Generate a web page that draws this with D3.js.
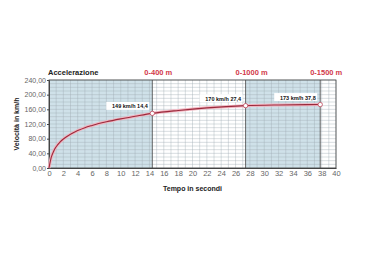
<!DOCTYPE html>
<html>
<head>
<meta charset="utf-8">
<script src="https://d3js.org/d3.v7.min.js"></script>
<style>
  body { margin: 0; background: #fff; }
  svg { display: block; font-family: "Liberation Sans", Arial, sans-serif; }
</style>
</head>
<body>
<svg id="chart" width="368" height="263"></svg>
<script>
// curve (time s, speed km/h)
const times  = [0, 0.3, 0.7, 1, 1.5, 2, 3, 4, 5, 6, 8, 10, 12, 14.4, 18, 22, 27.4, 32, 37.8]
const speeds = [0, 28, 48, 58, 70, 79, 92, 102, 110, 116, 126, 134, 141, 149, 157, 164, 170, 172, 173]

// marked points and their labels
const markTimes  = [14.4, 27.4, 37.8]
const markSpeeds = [149, 170, 173]
const markLabels = ['149 km/h 14,4', '170 km/h 27,4', '173 km/h 37,8']

// shaded distance bands
const bandStarts = [0, 27.4]
const bandEnds   = [14.4, 37.8]
const distLabels = ['0-400 m', '0-1000 m', '0-1500 m']
const distTimes  = [14.4, 27.4, 37.8]

const xTicks = d3.range(0, 41, 2)
const yTicks = [0, 40, 80, 120, 160, 200, 240]

const svg = d3.select('#chart')
const x = d3.scaleLinear().domain([0, 40]).range([49, 336])
const y = d3.scaleLinear().domain([0, 240]).range([168, 80])

// bands
svg.append('g').selectAll('rect').data(bandStarts).enter().append('rect')
  .attr('x', (d) => x(d))
  .attr('y', y(240))
  .attr('width', (d, i) => x(bandEnds[i]) - x(d))
  .attr('height', y(0) - y(240))
  .attr('fill', '#cfe1e9')

// grid
const grid = svg.append('g').attr('stroke', '#9eacb3').attr('stroke-width', 0.4)
grid.selectAll('.v').data(d3.range(0, 41, 1)).enter().append('line')
  .attr('x1', (d) => x(d)).attr('x2', (d) => x(d))
  .attr('y1', y(0)).attr('y2', y(240))
grid.selectAll('.h').data(d3.range(0, 241, 10)).enter().append('line')
  .attr('x1', x(0)).attr('x2', x(40))
  .attr('y1', (d) => y(d)).attr('y2', (d) => y(d))

// band edges
svg.append('g').selectAll('line').data(distTimes).enter().append('line')
  .attr('x1', (d) => x(d)).attr('x2', (d) => x(d))
  .attr('y1', y(0)).attr('y2', y(240))
  .attr('stroke', '#444').attr('stroke-width', 0.8)

// frame
svg.append('rect')
  .attr('x', x(0)).attr('y', y(240))
  .attr('width', x(40) - x(0)).attr('height', y(0) - y(240))
  .attr('fill', 'none').attr('stroke', '#444').attr('stroke-width', 0.8)

// axes
const xAxis = svg.append('g').attr('transform', 'translate(0,' + y(0) + ')')
  .call(d3.axisBottom(x).tickValues(xTicks).tickSize(0).tickPadding(3))
xAxis.select('.domain').attr('stroke', '#444')
xAxis.selectAll('text').attr('font-size', 7.5).attr('fill', '#666')

const yAxis = svg.append('g').attr('transform', 'translate(' + x(0) + ',0)')
  .call(d3.axisLeft(y).tickValues(yTicks).tickSize(2).tickPadding(1)
    .tickFormat((d) => d3.format('.2f')(d).replace('.', ',')))
yAxis.select('.domain').attr('stroke', '#444')
yAxis.selectAll('text').attr('font-size', 7).attr('fill', '#666')
yAxis.selectAll('line').attr('stroke', '#444')

// curve
const pts = times.map((t, i) => [t, speeds[i]])
const line = d3.line().x((d) => x(d[0])).y((d) => y(d[1])).curve(d3.curveMonotoneX)
svg.append('path').datum(pts).attr('d', line)
  .attr('fill', 'none').attr('stroke', '#f2b3be').attr('stroke-width', 3)
svg.append('path').datum(pts).attr('d', line)
  .attr('fill', 'none').attr('stroke', '#9a2a3c').attr('stroke-width', 1.1)

// markers
svg.append('g').selectAll('circle').data(markTimes).enter().append('circle')
  .attr('cx', (d) => x(d)).attr('cy', (d, i) => y(markSpeeds[i]))
  .attr('r', 2.2).attr('fill', '#fff').attr('stroke', '#c0485c').attr('stroke-width', 0.8)

// point labels
const lab = svg.append('g').selectAll('g').data(markTimes).enter().append('g')
  .attr('transform', (d, i) => 'translate(' + (x(d) - 3) + ',' + (y(markSpeeds[i]) - 7) + ')')
lab.append('rect')
  .attr('x', -43).attr('y', -4.5).attr('width', 43).attr('height', 8)
  .attr('fill', '#fff')
lab.append('text').text((d, i) => markLabels[i])
  .attr('x', -1.5).attr('y', 2).attr('text-anchor', 'end')
  .attr('font-size', 5.5).attr('font-weight', 'bold').attr('fill', '#111')

// distance labels
svg.append('g').selectAll('text').data(distTimes).enter().append('text')
  .attr('x', (d) => x(d) + 6).attr('y', 75)
  .attr('text-anchor', 'middle').attr('font-size', 7.5).attr('font-weight', 'bold')
  .attr('fill', '#d23a4a').text((d, i) => distLabels[i])

// titles
svg.append('text').attr('x', 48).attr('y', 75)
  .attr('font-size', 7.5).attr('font-weight', 'bold').attr('fill', '#222')
  .text('Accelerazione')
svg.append('text').attr('x', (x(0) + x(40)) / 2).attr('y', 191)
  .attr('text-anchor', 'middle').attr('font-size', 7).attr('font-weight', 'bold').attr('fill', '#222')
  .text('Tempo in secondi')
svg.append('text')
  .attr('transform', 'translate(19,' + (y(120)) + ') rotate(-90)')
  .attr('text-anchor', 'middle').attr('font-size', 7).attr('font-weight', 'bold').attr('fill', '#222')
  .text('Velocità in km/h')
</script>
</body>
</html>
